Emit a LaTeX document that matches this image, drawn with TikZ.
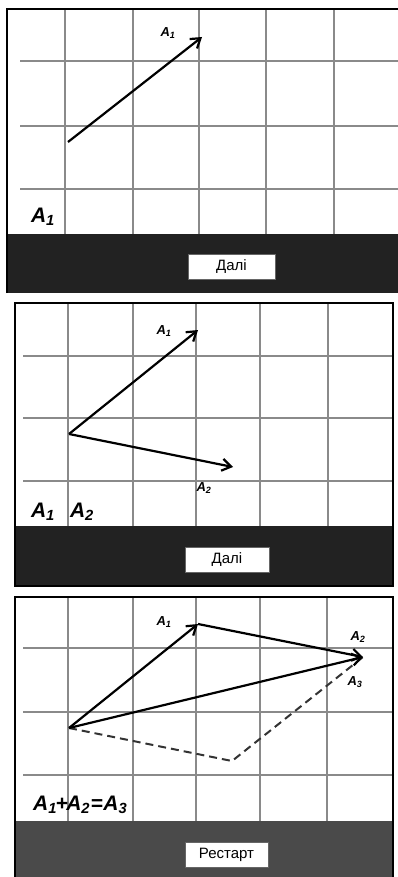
\documentclass[tikz,border=0pt]{standalone}
\usepackage{fontspec}
\setmainfont{Liberation Sans}
\usetikzlibrary{arrows.meta}
\definecolor{barA}{HTML}{222222}
\definecolor{barB}{HTML}{4A4A4A}
\definecolor{gridc}{HTML}{8A8A8A}
\tikzset{
  gridline/.style={draw=gridc, line width=1.1pt},
  frameline/.style={draw=black, line width=2.4pt},
  vec/.style={draw=black, line width=2.2pt, -{Straight Barb[length=9pt,width=12pt,line width=2.2pt]}},
  dashseg/.style={draw=black!80, line width=2pt, dash pattern=on 8pt off 5pt},
  lbl/.style={font=\bfseries\itshape\fontsize{13}{15}\selectfont, inner sep=0pt},
  biglbl/.style={font=\bfseries\itshape\fontsize{21}{24}\selectfont, inner sep=0pt},
  btn/.style={draw=black!60, fill=white, line width=0.6pt, minimum width=86pt, minimum height=25pt, inner sep=0pt, font=\fontsize{15}{17}\selectfont},
}
\newcommand{\Asub}[1]{A\textsubscript{#1}}
\begin{document}
\begin{tikzpicture}[x=1pt, y=-1pt]
\useasboundingbox (0,0) rectangle (398,877);
\fill[white] (0,0) rectangle (398,877);

% ---------- Panel 1 ----------
\foreach \x in {65,133,199,266,334} \draw[gridline] (\x,10) -- (\x,234);
\foreach \y in {61,126,189} \draw[gridline] (20,\y) -- (398,\y);
\fill[barA] (7,234) rectangle (398,293);
\draw[frameline] (7,293) -- (7,9) -- (398,9);
\coordinate (p1o) at (68,142);
\coordinate (p1a) at (202,37);
\draw[vec] (p1o) -- (p1a);
\node[lbl] (p1l1) at (168,33) {\Asub{1}};
\node[biglbl] (p1big) at (43,217) {\Asub{1}};
\node[btn, minimum width=87pt] (p1btn) at (231.5,266.5) {Далі};

% ---------- Panel 2 ----------
\foreach \x in {68,133,196,260,328} \draw[gridline] (\x,303) -- (\x,526);
\foreach \y in {356,418,481} \draw[gridline] (23,\y) -- (392,\y);
\fill[barA] (15,526) rectangle (393,586);
\draw[frameline] (15,303) rectangle (393,586);
\coordinate (p2o) at (69,434);
\coordinate (p2a) at (198,330);
\coordinate (p2b) at (233,467);
\draw[vec] (p2o) -- (p2a);
\draw[vec] (p2o) -- (p2b);
\node[lbl] (p2l1) at (164,331) {\Asub{1}};
\node[lbl] (p2l2) at (204,488) {\Asub{2}};
\node[biglbl] (p2big1) at (43,512) {\Asub{1}};
\node[biglbl] (p2big2) at (82,512) {\Asub{2}};
\node[btn, minimum width=84pt] (p2btn) at (227,559.5) {Далі};

% ---------- Panel 3 ----------
\foreach \x in {68,133,196,260,327} \draw[gridline] (\x,597) -- (\x,821);
\foreach \y in {648,712,775} \draw[gridline] (23,\y) -- (392,\y);
\fill[barB] (15,821) rectangle (393,877);
\draw[frameline] (15,877) -- (15,597) -- (393,597) -- (393,877);
\coordinate (p3o) at (69,728);
\coordinate (p3a) at (198,624);
\coordinate (p3c) at (363,657);
\coordinate (p3d) at (232,761);
\draw[dashseg] (p3o) -- (p3d) -- (p3c);
\draw[vec] (p3o) -- (p3a);
\draw[vec] (p3a) -- (p3c);
\draw[vec] (p3o) -- (p3c);
\node[lbl] (p3l1) at (164,622) {\Asub{1}};
\node[lbl] (p3l2) at (358,637) {\Asub{2}};
\node[lbl] (p3l3) at (355,682) {\Asub{3}};
\node[biglbl, anchor=west] (p3eq) at (33,805) {\Asub{1}\kern-1.5pt+\kern-1.5pt\Asub{2}\kern0.5pt=\kern0.5pt\Asub{3}};
\node[btn, minimum width=83pt] (p3btn) at (226.5,854.5) {Рестарт};
\end{tikzpicture}
\end{document}
